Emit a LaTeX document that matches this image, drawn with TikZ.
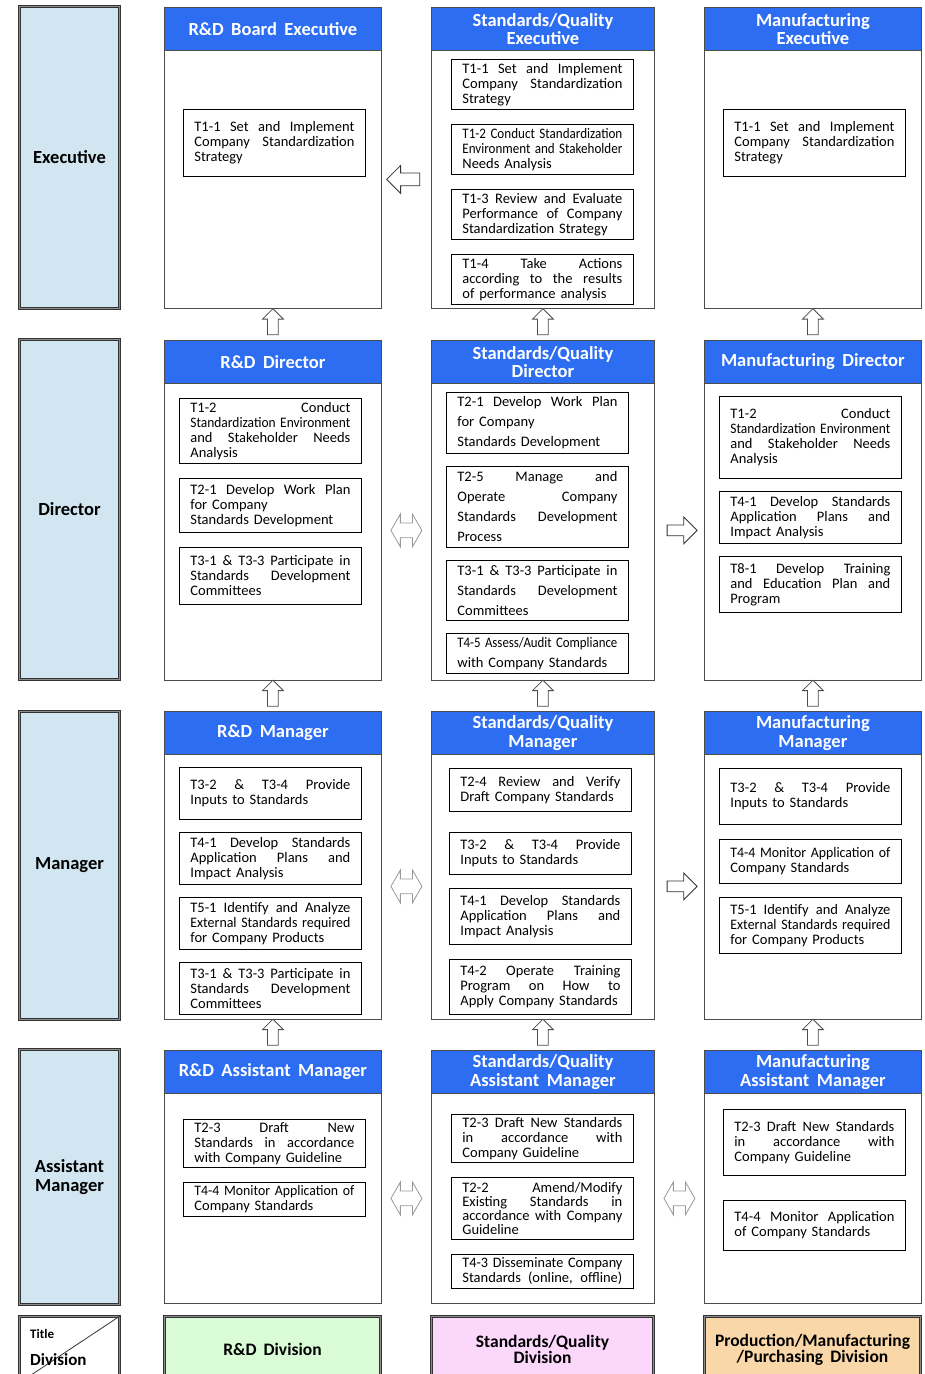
\documentclass[tikz,border=0pt]{standalone}
\usepackage{fontspec}
\usepackage{graphicx}
\setmainfont{Carlito}[WordSpace=1.5]
\newfontfamily\headfont[WordSpace=1.8]{Carlito}
\usetikzlibrary{positioning,shapes.arrows}

\definecolor{hdrblue}{HTML}{2C6DF2}
\definecolor{rolefill}{HTML}{D2E6F1}
\definecolor{rdfill}{HTML}{D9FCD7}
\definecolor{sqfill}{HTML}{FBD7FB}
\definecolor{mffill}{HTML}{FAD7A9}

\newlength\tw
\setlength\tw{160pt}
\newsavebox\twbox
% one justified line of a task text (squeezed when too long)
\newcommand{\jl}[1]{\sbox\twbox{#1}\ifdim\wd\twbox>\tw\resizebox{\tw}{\height}{#1}\else\makebox[\tw][s]{#1}\fi}

\begin{document}
\begin{tikzpicture}[x=1pt, y=-1pt,
	role/.style={draw=black!80, line width=1pt, double=black!45, double distance=1.2pt, fill=rolefill, minimum width=100, align=center, font=\headfont\bfseries\fontsize{18.5}{19}\selectfont},
	division/.style={draw=black!80, line width=1pt, double=black!45, double distance=1.2pt, minimum height=66, align=center, font=\headfont\bfseries\fontsize{17.5}{14}\selectfont},
	panel/.style={draw=black!70, line width=0.8pt, fill=white, anchor=north west, inner sep=0},
	hdr/.style={draw=black!70, line width=0.8pt, fill=hdrblue, text=white, anchor=north west, minimum height=43, inner sep=0, align=center, font=\headfont\bfseries\fontsize{18.5}{18.5}\selectfont},
	task/.style={draw=black, line width=1pt, fill=white, minimum width=182, minimum height=#1, inner xsep=11, inner ysep=1, align=left, font=\fontsize{14.5}{15}\selectfont},
	blockup/.style={single arrow, draw=black!70, line width=0.8pt, fill=white, shape border rotate=90, minimum height=26, inner sep=5, single arrow head extend=5},
	blockleft/.style={single arrow, draw=black!80, line width=0.8pt, fill=white, shape border rotate=180, minimum height=33, inner sep=6, single arrow head extend=7.5},
	blockright/.style={single arrow, draw=black!80, line width=0.8pt, fill=white, minimum height=30, inner sep=5, single arrow head extend=8},
	blockboth/.style={double arrow, draw=black!40, line width=0.8pt, fill=white, minimum height=31, inner sep=7, double arrow head extend=9, double arrow tip angle=120}]

	\path[fill=white, use as bounding box] (0,0) rectangle (925,1374);
	\clip (0,0) rectangle (925,1374);

	% position titles
	\node[role, minimum height=302] (exec) at (69.5,157.5) {Executive};
	\node[role, minimum height=340] (dir) at (69.5,509.5) {Director};
	\node[role, minimum height=308] (man) at (69.5,865.5) {Manager};
	\node[role, minimum height=255] (ast) at (69.5,1177) {Assistant\\Manager};

	% executive row
	\node[panel, minimum width=217, minimum height=301] (RDexec) at (164,7) {};
	\node[panel, minimum width=223, minimum height=301] (SQexec) at (431,7) {};
	\node[panel, minimum width=217, minimum height=301] (MFexec) at (704,7) {};
	\node[hdr, minimum width=217] (RDexecH) at (RDexec.north west) {R\&D Board Executive};
	\node[hdr, minimum width=223] (SQexecH) at (SQexec.north west) {Standards/Quality\\Executive};
	\node[hdr, minimum width=217] (MFexecH) at (MFexec.north west) {Manufacturing\\Executive};

	\node[task=67, below=58pt of RDexecH, xshift=1.5] (RDexecT1) {\jl{T1-1 Set and Implement}\\\jl{Company Standardization}\\Strategy};
	\node[task=50, below=8pt of SQexecH, xshift=-0.5] (SQexecT1) {\jl{T1-1 Set and Implement}\\\jl{Company Standardization}\\Strategy};
	\node[task=50, below=14pt of SQexecT1] (SQexecT2) {\jl{T1-2 Conduct Standardization}\\\jl{Environment and Stakeholder}\\Needs Analysis};
	\node[task=50, below=14pt of SQexecT2] (SQexecT3) {\jl{T1-3 Review and Evaluate}\\\jl{Performance of Company}\\Standardization Strategy};
	\node[task=50, below=14pt of SQexecT3] (SQexecT4) {\jl{T1-4 Take Actions}\\\jl{according to the results}\\of performance analysis};
	\node[task=67, below=58pt of MFexecH, xshift=1.5] (MFexecT1) {\jl{T1-1 Set and Implement}\\\jl{Company Standardization}\\Strategy};

	% director row
	\node[panel, minimum width=217, minimum height=340] (RDdir) at (164,340) {};
	\node[panel, minimum width=223, minimum height=340] (SQdir) at (431,340) {};
	\node[panel, minimum width=217, minimum height=340] (MFdir) at (704,340) {};
	\node[hdr, minimum width=217] (RDdirH) at (RDdir.north west) {R\&D Director};
	\node[hdr, minimum width=223] (SQdirH) at (SQdir.north west) {Standards/Quality\\Director};
	\node[hdr, minimum width=217] (MFdirH) at (MFdir.north west) {Manufacturing Director};

	\node[task=65, below=14pt of RDdirH, xshift=-2.5] (RDdirT1) {\jl{T1-2 Conduct}\\\jl{Standardization Environment}\\\jl{and Stakeholder Needs}\\Analysis};
	\node[task=54, below=14pt of RDdirT1] (RDdirT2) {\jl{T2-1 Develop Work Plan}\\for Company\\Standards Development};
	\node[task=57, below=14pt of RDdirT2] (RDdirT3) {\jl{T3-1 \& T3-3 Participate in}\\\jl{Standards Development}\\Committees};
	\node[task=61, below=8pt of SQdirH, xshift=-5.5, font=\fontsize{14.5}{20}\selectfont] (SQdirT1) {\jl{T2-1 Develop Work Plan}\\for Company\\Standards Development};
	\node[task=81, below=12pt of SQdirT1, font=\fontsize{14.5}{20}\selectfont] (SQdirT2) {\jl{T2-5 Manage and}\\\jl{Operate Company}\\\jl{Standards Development}\\Process};
	\node[task=60, below=12pt of SQdirT2, font=\fontsize{14.5}{20}\selectfont] (SQdirT3) {\jl{T3-1 \& T3-3 Participate in}\\\jl{Standards Development}\\Committees};
	\node[task=40, below=12pt of SQdirT3, font=\fontsize{14.5}{20}\selectfont] (SQdirT4) {\jl{T4-5 Assess/Audit Compliance}\\with Company Standards};
	\node[task=82, below=12pt of MFdirH, xshift=-2.5] (MFdirT1) {\jl{T1-2 Conduct}\\\jl{Standardization Environment}\\\jl{and Stakeholder Needs}\\Analysis};
	\node[task=52, below=12pt of MFdirT1] (MFdirT2) {\jl{T4-1 Develop Standards}\\\jl{Application Plans and}\\Impact Analysis};
	\node[task=56, below=12pt of MFdirT2] (MFdirT3) {\jl{T8-1 Develop Training}\\\jl{and Education Plan and}\\Program};

	% manager row
	\node[panel, minimum width=217, minimum height=308] (RDman) at (164,711) {};
	\node[panel, minimum width=223, minimum height=308] (SQman) at (431,711) {};
	\node[panel, minimum width=217, minimum height=308] (MFman) at (704,711) {};
	\node[hdr, minimum width=217] (RDmanH) at (RDman.north west) {R\&D Manager};
	\node[hdr, minimum width=223] (SQmanH) at (SQman.north west) {Standards/Quality\\Manager};
	\node[hdr, minimum width=217] (MFmanH) at (MFman.north west) {Manufacturing\\Manager};

	\node[task=52, below=12pt of RDmanH, xshift=-2.5] (RDmanT1) {\jl{T3-2 \& T3-4 Provide}\\Inputs to Standards};
	\node[task=52, below=12pt of RDmanT1] (RDmanT2) {\jl{T4-1 Develop Standards}\\\jl{Application Plans and}\\Impact Analysis};
	\node[task=52, below=12pt of RDmanT2] (RDmanT3) {\jl{T5-1 Identify and Analyze}\\\jl{External Standards required}\\for Company Products};
	\node[task=52, below=12pt of RDmanT3] (RDmanT4) {\jl{T3-1 \& T3-3 Participate in}\\\jl{Standards Development}\\Committees};
	\node[task=43, below=13pt of SQmanH, xshift=-2.5] (SQmanT1) {\jl{T2-4 Review and Verify}\\Draft Company Standards};
	\node[task=42, below=20pt of SQmanT1] (SQmanT2) {\jl{T3-2 \& T3-4 Provide}\\Inputs to Standards};
	\node[task=56, below=13pt of SQmanT2] (SQmanT3) {\jl{T4-1 Develop Standards}\\\jl{Application Plans and}\\Impact Analysis};
	\node[task=55, below=14pt of SQmanT3] (SQmanT4) {\jl{T4-2 Operate Training}\\\jl{Program on How to}\\Apply Company Standards};
	\node[task=56, below=13pt of MFmanH, xshift=-2.5] (MFmanT1) {\jl{T3-2 \& T3-4 Provide}\\Inputs to Standards};
	\node[task=44, below=14pt of MFmanT1] (MFmanT2) {\jl{T4-4 Monitor Application of}\\Company Standards};
	\node[task=56, below=13pt of MFmanT2] (MFmanT3) {\jl{T5-1 Identify and Analyze}\\\jl{External Standards required}\\for Company Products};

	% assistant manager row
	\node[panel, minimum width=217, minimum height=253] (RDast) at (164,1050) {};
	\node[panel, minimum width=223, minimum height=253] (SQast) at (431,1050) {};
	\node[panel, minimum width=217, minimum height=253] (MFast) at (704,1050) {};
	\node[hdr, minimum width=217] (RDastH) at (RDast.north west) {R\&D Assistant Manager};
	\node[hdr, minimum width=223] (SQastH) at (SQast.north west) {Standards/Quality\\Assistant Manager};
	\node[hdr, minimum width=217] (MFastH) at (MFast.north west) {Manufacturing\\Assistant Manager};

	\node[task=48, below=25pt of RDastH, xshift=1.5] (RDastT1) {\jl{T2-3 Draft New}\\\jl{Standards in accordance}\\with Company Guideline};
	\node[task=34, below=14pt of RDastT1] (RDastT2) {\jl{T4-4 Monitor Application of}\\Company Standards};
	\node[task=48, below=20pt of SQastH, xshift=-0.5] (SQastT1) {\jl{T2-3 Draft New Standards}\\\jl{in accordance with}\\Company Guideline};
	\node[task=62, below=14pt of SQastT1, font=\fontsize{14.5}{14}\selectfont] (SQastT2) {\jl{T2-2 Amend/Modify}\\\jl{Existing Standards in}\\\jl{accordance with Company}\\Guideline};
	\node[task=34, below=14pt of SQastT2] (SQastT3) {\jl{T4-3 Disseminate Company}\\\jl{Standards (online, offline)}};
	\node[task=66, below=15pt of MFastH, xshift=1.5] (MFastT1) {\jl{T2-3 Draft New Standards}\\\jl{in accordance with}\\Company Guideline};
	\node[task=50, below=24pt of MFastT1] (MFastT2) {\jl{T4-4 Monitor Application}\\of Company Standards};

	% block arrows between the panels
	\path (RDexec) -- (SQexec) node[midway, yshift=-21.5, blockleft] {};
	\path (RDdir) -- (SQdir) node[midway, yshift=-20, blockboth] {};
	\path (SQdir) -- (MFdir) node[midway, yshift=-20, blockright] {};
	\path (RDman) -- (SQman) node[midway, yshift=-21, blockboth] {};
	\path (SQman) -- (MFman) node[midway, yshift=-21, blockright] {};
	\path (RDast) -- (SQast) node[midway, yshift=-21.5, blockboth] {};
	\path (SQast) -- (MFast) node[midway, yshift=-21.5, blockboth] {};
	\foreach \col in {RD,SQ,MF}{
		\path (\col dir) -- (\col exec) node[midway, blockup] {};
		\path (\col man) -- (\col dir) node[midway, blockup] {};
		\path (\col ast) -- (\col man) node[midway, blockup] {};
	}

	% divisions
	\node[division, fill=white, minimum width=100] (titlediv) at (69.5,1349.5) {};
	\draw[black!80, line width=0.8pt] (titlediv.south west) -- (titlediv.north east);
	\node[anchor=west, inner sep=0, font=\bfseries\fontsize{13}{13}\selectfont] (titleT) at ([shift={(11,-16)}]titlediv.west) {Title};
	\node[anchor=west, inner sep=0, font=\bfseries\fontsize{17}{17}\selectfont] (titleD) at ([shift={(11,10)}]titlediv.west) {Division};
	\node[division, fill=rdfill, minimum width=216] (RDdiv) at (272.5,1349.5) {R\&D Division};
	\node[division, fill=sqfill, minimum width=222] (SQdiv) at (542.5,1349.5) {Standards/Quality\\Division};
	\node[division, fill=mffill, minimum width=216] (MFdiv) at (812.5,1349.5) {Production/Manufacturing\\/Purchasing Division};

\end{tikzpicture}
\end{document}
